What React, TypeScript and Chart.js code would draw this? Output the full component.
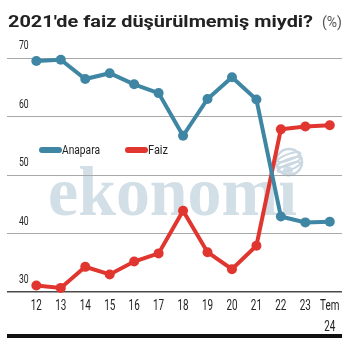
import React, { useEffect, useRef } from "react";
import { Chart, registerables } from "chart.js";

Chart.register(...registerables);

const categories: string[][] = [["12"], ["13"], ["14"], ["15"], ["16"], ["17"], ["18"], ["19"], ["20"], ["21"], ["22"], ["23"], ["Tem", "24"]];
const anapara = [69.5, 69.7, 66.4, 67.4, 65.5, 64.0, 56.7, 63.0, 66.7, 62.9, 42.9, 41.9, 42.0];
const faiz = [31.1, 30.7, 34.3, 33.0, 35.2, 36.6, 43.9, 36.8, 33.9, 37.9, 57.8, 58.3, 58.5];
const yTicks = [30, 40, 50, 60, 70];
const titleText = "2021'de faiz düşürülmemiş miydi?";
const unitText = "(%)";
const seriesNames = ["Anapara", "Faiz"];
const watermarkText = "ekonomi";

const BLUE = "#3f86a4";
const RED = "#e0362f";
const SANS = "Roboto, 'DejaVu Sans', sans-serif";

function squeezeText(ctx: CanvasRenderingContext2D, text: string, x: number, y: number, sx: number, align: "left" | "center" = "left") {
  const w = ctx.measureText(text).width * sx;
  const left = align === "center" ? x - w / 2 : x;
  ctx.save();
  ctx.translate(left, y);
  ctx.scale(sx, 1);
  ctx.textAlign = "left";
  ctx.fillText(text, 0, 0);
  ctx.restore();
}

const overlayPlugin = {
  id: "overlay",
  beforeDraw(chart: any) {
    const ctx = chart.ctx as CanvasRenderingContext2D;
    ctx.save();
    ctx.fillStyle = "#d2dfe7";
    ctx.font = "bold 70px 'Liberation Serif', 'DejaVu Serif', serif";
    ctx.textBaseline = "alphabetic";
    const w = ctx.measureText(watermarkText).width;
    ctx.translate(48, 215);
    ctx.scale(249 / w, 1);
    ctx.fillText(watermarkText, 0, 0);
    ctx.restore();
    // globe
    ctx.save();
    ctx.strokeStyle = "#c9d8e2";
    ctx.lineWidth = 2.5;
    ctx.beginPath();
    ctx.arc(289, 162, 13, 0, Math.PI * 2);
    ctx.stroke();
    ctx.lineWidth = 2;
    for (let i = -1; i <= 1; i++) {
      ctx.beginPath();
      ctx.ellipse(289, 162 + i * 5, 12, 3, -0.35, 0, Math.PI * 2);
      ctx.stroke();
    }
    ctx.restore();
  },
  afterDraw(chart: any) {
    const ctx = chart.ctx as CanvasRenderingContext2D;
    const area = chart.chartArea;
    const xs = chart.scales.x;
    const ys = chart.scales.y;
    ctx.save();
    ctx.textBaseline = "alphabetic";
    // title
    ctx.fillStyle = "#222";
    ctx.font = "bold 17px " + SANS;
    const tw = ctx.measureText(titleText).width;
    squeezeText(ctx, titleText, 8, 27, 305 / tw);
    ctx.fillStyle = "#555";
    ctx.font = "15px " + SANS;
    const uw = ctx.measureText(unitText).width;
    squeezeText(ctx, unitText, 322, 27, 20 / uw);

    // y tick labels
    ctx.fillStyle = "#222";
    ctx.font = "12px " + SANS;
    ctx.textBaseline = "middle";
    for (const v of yTicks) {
      const y = ys.getPixelForValue(v);
      squeezeText(ctx, String(v), 19, y - 12, 0.72);
    }

    // x tick labels
    ctx.font = "15px " + SANS;
    categories.forEach((lines, i) => {
      const x = xs.getPixelForValue(i);
      lines.forEach((t, j) => {
        squeezeText(ctx, t, x, area.bottom + 14 + j * 21, 0.66, "center");
      });
    });

    // legend
    const items = [
      { name: seriesNames[0], color: BLUE, x: 42, w: 38 },
      { name: seriesNames[1], color: RED, x: 128, w: 20 },
    ];
    const ly = 150;
    ctx.font = "12.5px " + SANS;
    for (const it of items) {
      ctx.strokeStyle = it.color;
      ctx.lineCap = "round";
      ctx.lineWidth = 6;
      ctx.beginPath();
      ctx.moveTo(it.x, ly);
      ctx.lineTo(it.x + 17, ly);
      ctx.stroke();
      ctx.fillStyle = "#222";
      const mw = ctx.measureText(it.name).width;
      squeezeText(ctx, it.name, it.x + 20, ly + 1, it.w / mw);
    }

    // bottom bar
    ctx.fillStyle = "#111";
    ctx.fillRect(area.left, 334, area.right - area.left, 4);
    ctx.restore();
  },
};

export default function App() {
  const ref = useRef<HTMLCanvasElement>(null);
  useEffect(() => {
    document.body.style.margin = "0";
    const canvas = ref.current!;
    const chart = new Chart(canvas, {
      type: "line",
      data: {
        datasets: [
          {
            label: seriesNames[0],
            data: anapara.map((v, i) => ({ x: i, y: v })),
            borderColor: BLUE,
            backgroundColor: BLUE,
            borderWidth: 4,
            pointRadius: 5,
            pointBorderWidth: 0,
            tension: 0,
          },
          {
            label: seriesNames[1],
            data: faiz.map((v, i) => ({ x: i, y: v })),
            borderColor: RED,
            backgroundColor: RED,
            borderWidth: 4,
            pointRadius: 5,
            pointBorderWidth: 0,
            tension: 0,
          },
        ],
      },
      plugins: [overlayPlugin],
      options: {
        animation: false,
        responsive: false,
        maintainAspectRatio: false,
        clip: false,
        layout: { padding: { left: 7, right: 14, top: 58, bottom: 55 } },
        plugins: { legend: { display: false }, tooltip: { enabled: false }, title: { display: false } },
        scales: {
          x: {
            type: "linear",
            min: -1.2,
            max: 12.5,
            afterBuildTicks: (axis: any) => {
              axis.ticks = categories.map((_, i) => ({ value: i }));
            },
            ticks: { display: false },
            grid: { display: false, drawTicks: false },
            border: { display: false },
          },
          y: {
            min: 30,
            max: 70,
            afterBuildTicks: (axis: any) => {
              axis.ticks = yTicks.map((v) => ({ value: v }));
            },
            ticks: { display: false },
            grid: {
              drawTicks: false,
              color: (c: any) => (c.tick && c.tick.value === 30 ? "#4a4a4a" : "#a8a8a8"),
              lineWidth: (c: any) => (c.tick && c.tick.value === 30 ? 1.5 : 1),
            },
            border: { display: false },
          },
        },
      },
    });
    return () => chart.destroy();
  }, []);
  return (
    <div style={{ width: 356, height: 347, background: "#fff" }}>
      <canvas ref={ref} width={356} height={347} style={{ display: "block" }} />
    </div>
  );
}
